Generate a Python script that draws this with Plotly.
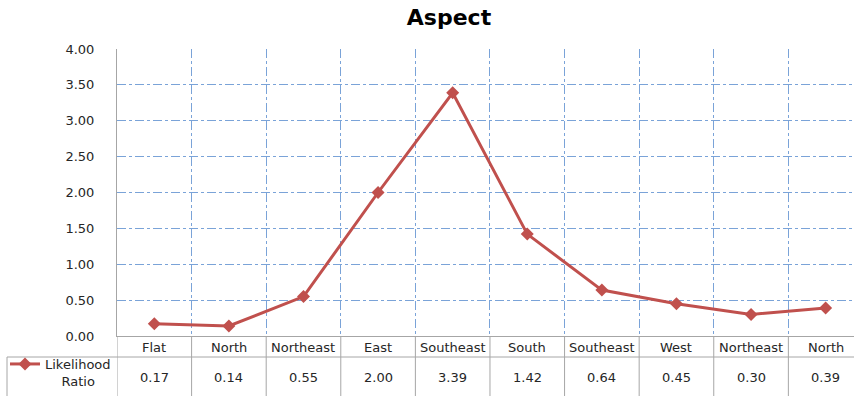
import plotly.graph_objects as go

categories = ["Flat", "North", "Northeast", "East", "Southeast", "South",
              "Southeast", "West", "Northeast", "North"]
likelihood_ratio = [0.17, 0.14, 0.55, 2.00, 3.39, 1.42, 0.64, 0.45, 0.30, 0.39]
y_ticks = [0, 0.5, 1.0, 1.5, 2.0, 2.5, 3.0, 3.5, 4.0]

W, H = 854, 396
FONT = "DejaVu Sans"
TXT = "#262626"
GRID = "#7aa3d8"
BORDER = "#a6a6a6"
RED = "#c0504d"

def py(p):  # pixel row -> paper y
    return 1 - p / H

xs = list(range(len(categories)))

fig = go.Figure()
fig.add_trace(go.Scatter(
    x=xs, y=likelihood_ratio, mode="lines+markers",
    name="Likelihood<br>\u00a0\u00a0\u00a0\u00a0Ratio",
    line=dict(color=RED, width=3),
    marker=dict(symbol="diamond", size=10, color=RED),
    showlegend=True,
))

shapes = []
# table vertical borders (below plot area)
for i in range(len(categories)):
    xb = i - 0.5
    shapes.append(dict(type="line", xref="x", yref="paper", x0=xb, x1=xb,
                       y0=0, y1=py(336), line=dict(color=BORDER, width=1)))
# horizontal border between category row and data row
shapes.append(dict(type="line", xref="paper", yref="paper", x0=7 / W, x1=1,
                   y0=py(357), y1=py(357), line=dict(color=BORDER, width=1)))
# left border of legend cell
shapes.append(dict(type="line", xref="paper", yref="paper", x0=7 / W, x1=7 / W,
                   y0=0, y1=py(357), line=dict(color=BORDER, width=1)))

annotations = []
for i, (c, v) in enumerate(zip(categories, likelihood_ratio)):
    annotations.append(dict(x=i, y=py(347), xref="x", yref="paper", text=c,
                            showarrow=False, yanchor="middle",
                            font=dict(family=FONT, size=13, color=TXT)))
    annotations.append(dict(x=i, y=py(377), xref="x", yref="paper", text=f"{v:.2f}",
                            showarrow=False, yanchor="middle",
                            font=dict(family=FONT, size=13, color=TXT)))

fig.update_layout(
    width=W, height=H, autosize=False,
    margin=dict(l=0, r=0, t=0, b=0),
    paper_bgcolor="white", plot_bgcolor="white",
    title=dict(text="<b>Aspect</b>", x=449 / W, xanchor="center", xref="paper",
               y=py(17), yanchor="middle", yref="paper",
               font=dict(family=FONT, size=22, color="black")),
    xaxis=dict(domain=[117 / W, 1], range=[-0.5, 9.38],
               tickvals=[i + 0.5 for i in xs[:-1]], showticklabels=False,
               showgrid=True, gridcolor=GRID, griddash="dashdot", gridwidth=1,
               zeroline=False, showline=True, linecolor=BORDER, linewidth=1,
               ticks=""),
    yaxis=dict(domain=[py(336), py(49)], range=[0, 4], tickvals=y_ticks,
               tickformat=".2f", showgrid=True, gridcolor=GRID, griddash="dashdot",
               gridwidth=1, zeroline=False, showline=True, linecolor=BORDER,
               linewidth=1, ticks="", ticklabelstandoff=19, automargin=False,
               tickfont=dict(family=FONT, size=13, color=TXT)),
    legend=dict(x=5 / W, y=0, xanchor="left", yanchor="bottom",
                font=dict(family=FONT, size=13, color=TXT), bgcolor="rgba(0,0,0,0)",
                borderwidth=0, valign="top", tracegroupgap=0),
    shapes=shapes, annotations=annotations,
)

fig.write_html("out.html",
               config={"displayModeBar": False, "responsive": False},
               post_script="document.body.style.margin='0';document.body.style.overflow='hidden';")
